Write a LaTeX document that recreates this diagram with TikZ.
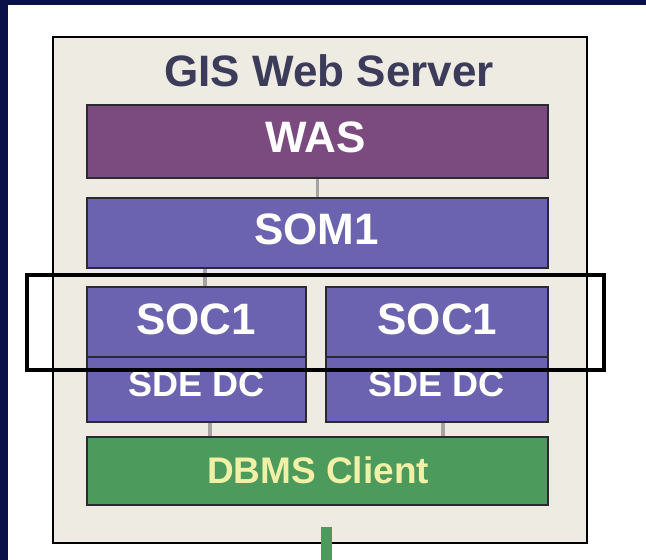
\documentclass[tikz,border=0pt]{standalone}
\usepackage{fontspec}
\setmainfont{Liberation Sans}
\definecolor{navybg}{HTML}{0A1048}
\definecolor{panel}{HTML}{EEEBE3}
\definecolor{wascol}{HTML}{7B4B80}
\definecolor{somcol}{HTML}{6B63B0}
\definecolor{dbmscol}{HTML}{4C9A5C}
\definecolor{titlecol}{HTML}{3C3C5A}
\definecolor{dbmstext}{HTML}{F2F0A6}
\definecolor{linkcol}{HTML}{A4A4A4}
\definecolor{edgecol}{HTML}{2A2A30}
\begin{document}
\begin{tikzpicture}[x=1pt,y=-1pt,
  layer/.style={draw=edgecol, line width=1.6pt, inner sep=0pt},
  link/.style={draw=linkcol, line width=3.5pt},
  lbl/.style={inner sep=0pt, text depth=0pt, font=\bfseries\fontsize{44}{44}\selectfont},
  small/.style={font=\bfseries\fontsize{36}{36}\selectfont}]
\useasboundingbox (0,0) rectangle (646,560);
\fill[white] (0,0) rectangle (646,560);
\fill[navybg] (0,0) rectangle (646,5);
\fill[navybg] (0,0) rectangle (8,560);
% outer panel
\node[draw=black, line width=2.6pt, fill=panel, minimum width=534pt, minimum height=506pt, inner sep=0pt] (panel) at (320,290) {};
\node[lbl, text=titlecol] (title) at (329,71) {GIS Web Server};
% layers
\node[layer, fill=wascol, minimum width=461pt, minimum height=73pt] (was) at (317.5,141.5) {};
\node[lbl, text=white] (wast) at (315.5,137.5) {WAS};
\node[layer, fill=somcol, minimum width=461pt, minimum height=70pt] (som) at (317.5,233) {};
\node[lbl, text=white] (somt) at (316.5,229) {SOM1};
\node[layer, fill=somcol, minimum width=219pt, minimum height=70pt] (socl) at (196.5,322) {};
\node[lbl, text=white] (soclt) at (196,319) {SOC1};
\node[layer, fill=somcol, minimum width=219pt, minimum height=65pt] (sdel) at (196.5,389.5) {};
\node[lbl, small, text=white] (sdelt) at (196.5,384) {SDE DC};
\node[layer, fill=somcol, minimum width=222pt, minimum height=70pt] (socr) at (437,322) {};
\node[lbl, text=white] (socrt) at (437.5,319) {SOC1};
\node[layer, fill=somcol, minimum width=222pt, minimum height=65pt] (sder) at (437,389.5) {};
\node[lbl, small, text=white] (sdert) at (436.5,384) {SDE DC};
\node[layer, fill=dbmscol, minimum width=461pt, minimum height=68pt] (dbms) at (317.5,471) {};
\node[lbl, font=\bfseries\fontsize{37}{37}\selectfont, text=dbmstext] (dbmst) at (318,470) {DBMS Client};
% links
\draw[link] (was.south) -- (som.north);
\draw[link] ([xshift=8.5pt]socl.north) -- ([xshift=8.5pt]socl.north |- som.south);
\draw[link] ([xshift=13.5pt]sdel.south) -- ([xshift=13.5pt]sdel.south |- dbms.north);
\draw[link] ([xshift=6pt]sder.south) -- ([xshift=6pt]sder.south |- dbms.north);
% outgoing green line
\coordinate (out) at (326,560);
\draw[draw=dbmscol, line width=11pt] (326,527) -- (out);
% highlight frame
\draw[black, line width=4pt] (26.5,274.5) rectangle (604,369.5);
\end{tikzpicture}
\end{document}
